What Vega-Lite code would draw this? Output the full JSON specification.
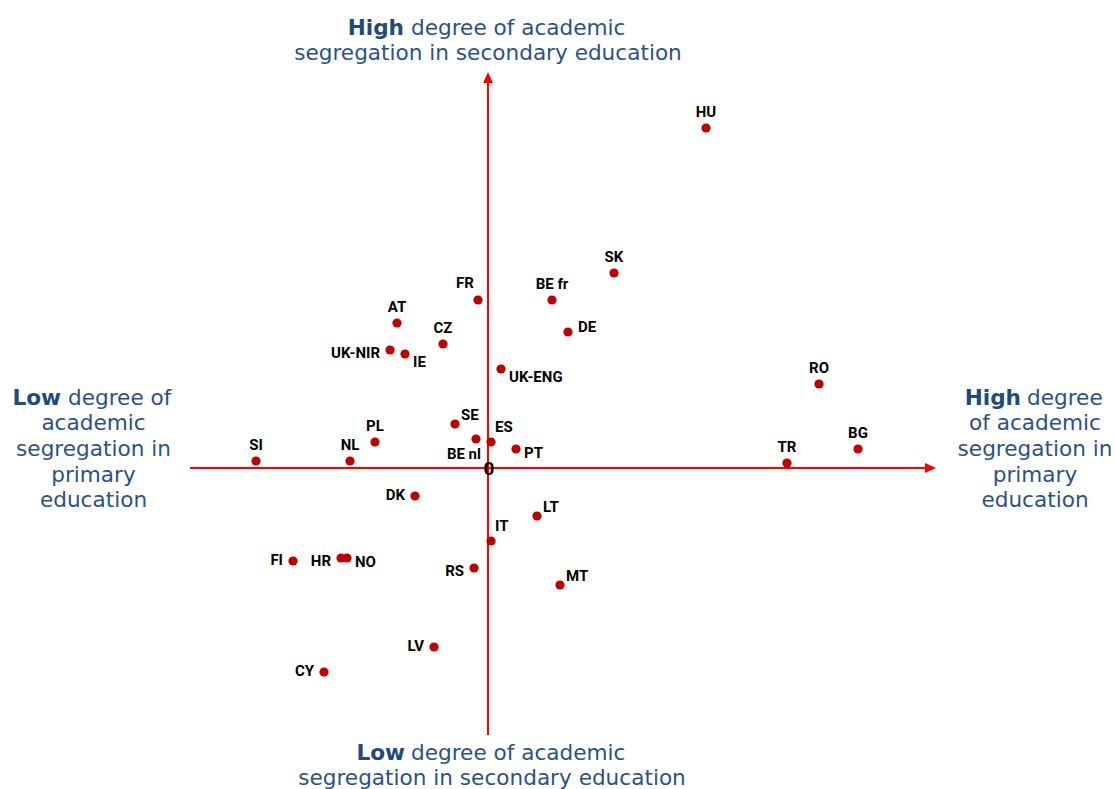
{
  "$schema": "https://vega.github.io/schema/vega-lite/v6.json",
  "width": 1114,
  "height": 789,
  "autosize": {"type": "none"},
  "padding": 0,
  "background": "white",
  "config": {"view": {"stroke": null}},
  "datasets": {
    "countries": [
      {"country": "HU", "x": 2.18, "y": 3.40},
      {"country": "SK", "x": 1.26, "y": 1.95},
      {"country": "BE fr", "x": 0.64, "y": 1.68},
      {"country": "FR", "x": -0.10, "y": 1.68},
      {"country": "DE", "x": 0.80, "y": 1.36},
      {"country": "AT", "x": -0.91, "y": 1.45},
      {"country": "CZ", "x": -0.45, "y": 1.24},
      {"country": "UK-NIR", "x": -0.98, "y": 1.18},
      {"country": "IE", "x": -0.83, "y": 1.14},
      {"country": "UK-ENG", "x": 0.13, "y": 0.99},
      {"country": "RO", "x": 3.31, "y": 0.84},
      {"country": "BG", "x": 3.70, "y": 0.19},
      {"country": "TR", "x": 2.99, "y": 0.05},
      {"country": "SE", "x": -0.33, "y": 0.44},
      {"country": "PL", "x": -1.13, "y": 0.26},
      {"country": "ES", "x": 0.03, "y": 0.26},
      {"country": "BE nl", "x": -0.12, "y": 0.29},
      {"country": "PT", "x": 0.28, "y": 0.19},
      {"country": "SI", "x": -2.32, "y": 0.07},
      {"country": "NL", "x": -1.38, "y": 0.07},
      {"country": "DK", "x": -0.73, "y": -0.28},
      {"country": "LT", "x": 0.49, "y": -0.48},
      {"country": "IT", "x": 0.03, "y": -0.73},
      {"country": "FI", "x": -1.95, "y": -0.93},
      {"country": "HR", "x": -1.47, "y": -0.90},
      {"country": "NO", "x": -1.41, "y": -0.90},
      {"country": "RS", "x": -0.14, "y": -1.00},
      {"country": "MT", "x": 0.72, "y": -1.17},
      {"country": "LV", "x": -0.54, "y": -1.79},
      {"country": "CY", "x": -1.64, "y": -2.04}
    ]
  },
  "data": {"name": "countries"},
  "layer": [
    {
      "data": {"values": [{}]},
      "mark": {"type": "rule", "color": "#ff0000", "strokeWidth": 2},
      "encoding": {
        "x": {"datum": -2.98, "type": "quantitative", "axis": null, "scale": {"domain": [-4.88, 6.26], "nice": false, "zero": false}},
        "x2": {"datum": 4.42},
        "y": {"datum": 0, "type": "quantitative", "axis": null, "scale": {"domain": [-3.21, 4.68], "nice": false, "zero": false}}
      }
    },
    {
      "data": {"values": [{}]},
      "mark": {"type": "rule", "color": "#ff0000", "strokeWidth": 2},
      "encoding": {
        "x": {"datum": 0, "type": "quantitative", "axis": null},
        "y": {"datum": -2.67, "type": "quantitative", "axis": null},
        "y2": {"datum": 3.86}
      }
    },
    {
      "data": {"values": [{}]},
      "mark": {"type": "point", "shape": "M-1,-0.9L1,0L-1,0.9Z", "size": 121, "filled": true, "color": "#ff0000", "opacity": 1},
      "encoding": {
        "x": {"datum": 4.425, "type": "quantitative", "axis": null},
        "y": {"datum": 0, "type": "quantitative", "axis": null}
      }
    },
    {
      "data": {"values": [{}]},
      "mark": {"type": "point", "shape": "M-0.9,1L0,-1L0.9,1Z", "size": 121, "filled": true, "color": "#ff0000", "opacity": 1},
      "encoding": {
        "x": {"datum": 0, "type": "quantitative", "axis": null},
        "y": {"datum": 3.905, "type": "quantitative", "axis": null}
      }
    },
    {
      "mark": {"type": "circle", "size": 85, "color": "#c00000", "opacity": 1},
      "encoding": {
        "x": {"field": "x", "type": "quantitative", "axis": null},
        "y": {"field": "y", "type": "quantitative", "axis": null}
      }
    },
    {
      "transform": [{"filter": {"field": "country", "oneOf": ["HU", "SK", "BE fr", "AT", "CZ", "SI", "NL", "PL", "RO", "BG", "TR"]}}],
      "mark": {"type": "text", "font": "Roboto", "fontWeight": "bold", "fontSize": 15, "color": "#000000", "align": "center", "baseline": "alphabetic", "dy": -11},
      "encoding": {
        "x": {"field": "x", "type": "quantitative", "axis": null},
        "y": {"field": "y", "type": "quantitative", "axis": null},
        "text": {"field": "country"}
      }
    },
    {
      "transform": [{"filter": {"field": "country", "oneOf": ["FR"]}}],
      "mark": {"type": "text", "font": "Roboto", "fontWeight": "bold", "fontSize": 15, "color": "#000000", "align": "center", "baseline": "alphabetic", "dx": -13, "dy": -12},
      "encoding": {
        "x": {"field": "x", "type": "quantitative", "axis": null},
        "y": {"field": "y", "type": "quantitative", "axis": null},
        "text": {"field": "country"}
      }
    },
    {
      "transform": [{"filter": {"field": "country", "oneOf": ["DE"]}}],
      "mark": {"type": "text", "font": "Roboto", "fontWeight": "bold", "fontSize": 15, "color": "#000000", "align": "left", "baseline": "alphabetic", "dx": 10, "dy": 0},
      "encoding": {
        "x": {"field": "x", "type": "quantitative", "axis": null},
        "y": {"field": "y", "type": "quantitative", "axis": null},
        "text": {"field": "country"}
      }
    },
    {
      "transform": [{"filter": {"field": "country", "oneOf": ["UK-ENG", "IE"]}}],
      "mark": {"type": "text", "font": "Roboto", "fontWeight": "bold", "fontSize": 15, "color": "#000000", "align": "left", "baseline": "alphabetic", "dx": 8, "dy": 13},
      "encoding": {
        "x": {"field": "x", "type": "quantitative", "axis": null},
        "y": {"field": "y", "type": "quantitative", "axis": null},
        "text": {"field": "country"}
      }
    },
    {
      "transform": [{"filter": {"field": "country", "oneOf": ["PT", "NO"]}}],
      "mark": {"type": "text", "font": "Roboto", "fontWeight": "bold", "fontSize": 15, "color": "#000000", "align": "left", "baseline": "alphabetic", "dx": 8, "dy": 9},
      "encoding": {
        "x": {"field": "x", "type": "quantitative", "axis": null},
        "y": {"field": "y", "type": "quantitative", "axis": null},
        "text": {"field": "country"}
      }
    },
    {
      "transform": [{"filter": {"field": "country", "oneOf": ["MT", "LT", "SE"]}}],
      "mark": {"type": "text", "font": "Roboto", "fontWeight": "bold", "fontSize": 15, "color": "#000000", "align": "left", "baseline": "alphabetic", "dx": 6, "dy": -4},
      "encoding": {
        "x": {"field": "x", "type": "quantitative", "axis": null},
        "y": {"field": "y", "type": "quantitative", "axis": null},
        "text": {"field": "country"}
      }
    },
    {
      "transform": [{"filter": {"field": "country", "oneOf": ["IT", "ES"]}}],
      "mark": {"type": "text", "font": "Roboto", "fontWeight": "bold", "fontSize": 15, "color": "#000000", "align": "left", "baseline": "alphabetic", "dx": 4, "dy": -10},
      "encoding": {
        "x": {"field": "x", "type": "quantitative", "axis": null},
        "y": {"field": "y", "type": "quantitative", "axis": null},
        "text": {"field": "country"}
      }
    },
    {
      "transform": [{"filter": {"field": "country", "oneOf": ["UK-NIR", "HR", "RS"]}}],
      "mark": {"type": "text", "font": "Roboto", "fontWeight": "bold", "fontSize": 15, "color": "#000000", "align": "right", "baseline": "alphabetic", "dx": -10, "dy": 8},
      "encoding": {
        "x": {"field": "x", "type": "quantitative", "axis": null},
        "y": {"field": "y", "type": "quantitative", "axis": null},
        "text": {"field": "country"}
      }
    },
    {
      "transform": [{"filter": {"field": "country", "oneOf": ["DK", "FI", "LV", "CY"]}}],
      "mark": {"type": "text", "font": "Roboto", "fontWeight": "bold", "fontSize": 15, "color": "#000000", "align": "right", "baseline": "alphabetic", "dx": -10, "dy": 4},
      "encoding": {
        "x": {"field": "x", "type": "quantitative", "axis": null},
        "y": {"field": "y", "type": "quantitative", "axis": null},
        "text": {"field": "country"}
      }
    },
    {
      "transform": [{"filter": {"field": "country", "oneOf": ["BE nl"]}}],
      "mark": {"type": "text", "font": "Roboto", "fontWeight": "bold", "fontSize": 15, "color": "#000000", "align": "right", "baseline": "alphabetic", "dx": 5, "dy": 20},
      "encoding": {
        "x": {"field": "x", "type": "quantitative", "axis": null},
        "y": {"field": "y", "type": "quantitative", "axis": null},
        "text": {"field": "country"}
      }
    },
    {
      "data": {"values": [{}]},
      "mark": {"type": "text", "text": "0", "font": "Roboto", "fontWeight": "bold", "fontSize": 19, "color": "#000000", "align": "center", "baseline": "alphabetic", "dx": 1, "dy": 7},
      "encoding": {
        "x": {"datum": 0, "type": "quantitative", "axis": null},
        "y": {"datum": 0, "type": "quantitative", "axis": null}
      }
    },
    {
      "data": {"values": [{}]},
      "mark": {"type": "text", "text": "High", "font": "DejaVu Sans", "fontWeight": "bold", "fontSize": 21.6, "color": "#1f4a7c", "align": "right", "baseline": "alphabetic"},
      "encoding": {
        "x": {"datum": -0.84, "type": "quantitative", "axis": null},
        "y": {"datum": 4.33, "type": "quantitative", "axis": null}
      }
    },
    {
      "data": {"values": [{}]},
      "mark": {"type": "text", "text": "degree of academic", "font": "DejaVu Sans", "fontSize": 21.6, "color": "#2b5286", "align": "left", "baseline": "alphabetic"},
      "encoding": {
        "x": {"datum": -0.77, "type": "quantitative", "axis": null},
        "y": {"datum": 4.33, "type": "quantitative", "axis": null}
      }
    },
    {
      "data": {"values": [{}]},
      "mark": {"type": "text", "text": "segregation in secondary education", "font": "DejaVu Sans", "fontSize": 21.6, "color": "#2b5286", "align": "center", "baseline": "alphabetic"},
      "encoding": {
        "x": {"datum": 0, "type": "quantitative", "axis": null},
        "y": {"datum": 4.085, "type": "quantitative", "axis": null}
      }
    },
    {
      "data": {"values": [{}]},
      "mark": {"type": "text", "text": "Low", "font": "DejaVu Sans", "fontWeight": "bold", "fontSize": 21.6, "color": "#1f4a7c", "align": "right", "baseline": "alphabetic"},
      "encoding": {
        "x": {"datum": -0.83, "type": "quantitative", "axis": null},
        "y": {"datum": -2.92, "type": "quantitative", "axis": null}
      }
    },
    {
      "data": {"values": [{}]},
      "mark": {"type": "text", "text": "degree of academic", "font": "DejaVu Sans", "fontSize": 21.6, "color": "#2b5286", "align": "left", "baseline": "alphabetic"},
      "encoding": {
        "x": {"datum": -0.77, "type": "quantitative", "axis": null},
        "y": {"datum": -2.92, "type": "quantitative", "axis": null}
      }
    },
    {
      "data": {"values": [{}]},
      "mark": {"type": "text", "text": "segregation in secondary education", "font": "DejaVu Sans", "fontSize": 21.6, "color": "#2b5286", "align": "center", "baseline": "alphabetic"},
      "encoding": {
        "x": {"datum": 0.04, "type": "quantitative", "axis": null},
        "y": {"datum": -3.17, "type": "quantitative", "axis": null}
      }
    },
    {
      "data": {"values": [{}]},
      "mark": {"type": "text", "text": "Low", "font": "DejaVu Sans", "fontWeight": "bold", "fontSize": 21.6, "color": "#1f4a7c", "align": "right", "baseline": "alphabetic"},
      "encoding": {
        "x": {"datum": -4.27, "type": "quantitative", "axis": null},
        "y": {"datum": 0.63, "type": "quantitative", "axis": null}
      }
    },
    {
      "data": {"values": [{}]},
      "mark": {"type": "text", "text": "degree of", "font": "DejaVu Sans", "fontWeight": "normal", "fontSize": 21.6, "color": "#2b5286", "align": "left", "baseline": "alphabetic"},
      "encoding": {
        "x": {"datum": -4.2, "type": "quantitative", "axis": null},
        "y": {"datum": 0.63, "type": "quantitative", "axis": null}
      }
    },
    {
      "data": {"values": [{}]},
      "mark": {"type": "text", "text": ["academic", "segregation in", "primary", "education"], "lineHeight": 25.8, "font": "DejaVu Sans", "fontSize": 21.6, "color": "#2b5286", "align": "center", "baseline": "alphabetic"},
      "encoding": {
        "x": {"datum": -3.945, "type": "quantitative", "axis": null},
        "y": {"datum": 0.38, "type": "quantitative", "axis": null}
      }
    },
    {
      "data": {"values": [{}]},
      "mark": {"type": "text", "text": "High", "font": "DejaVu Sans", "fontWeight": "bold", "fontSize": 21.6, "color": "#1f4a7c", "align": "right", "baseline": "alphabetic"},
      "encoding": {
        "x": {"datum": 5.33, "type": "quantitative", "axis": null},
        "y": {"datum": 0.63, "type": "quantitative", "axis": null}
      }
    },
    {
      "data": {"values": [{}]},
      "mark": {"type": "text", "text": "degree", "font": "DejaVu Sans", "fontSize": 21.6, "color": "#2b5286", "align": "left", "baseline": "alphabetic"},
      "encoding": {
        "x": {"datum": 5.39, "type": "quantitative", "axis": null},
        "y": {"datum": 0.63, "type": "quantitative", "axis": null}
      }
    },
    {
      "data": {"values": [{}]},
      "mark": {"type": "text", "text": ["of academic", "segregation in", "primary", "education"], "lineHeight": 25.8, "font": "DejaVu Sans", "fontSize": 21.6, "color": "#2b5286", "align": "center", "baseline": "alphabetic"},
      "encoding": {
        "x": {"datum": 5.47, "type": "quantitative", "axis": null},
        "y": {"datum": 0.38, "type": "quantitative", "axis": null}
      }
    }
  ]
}
